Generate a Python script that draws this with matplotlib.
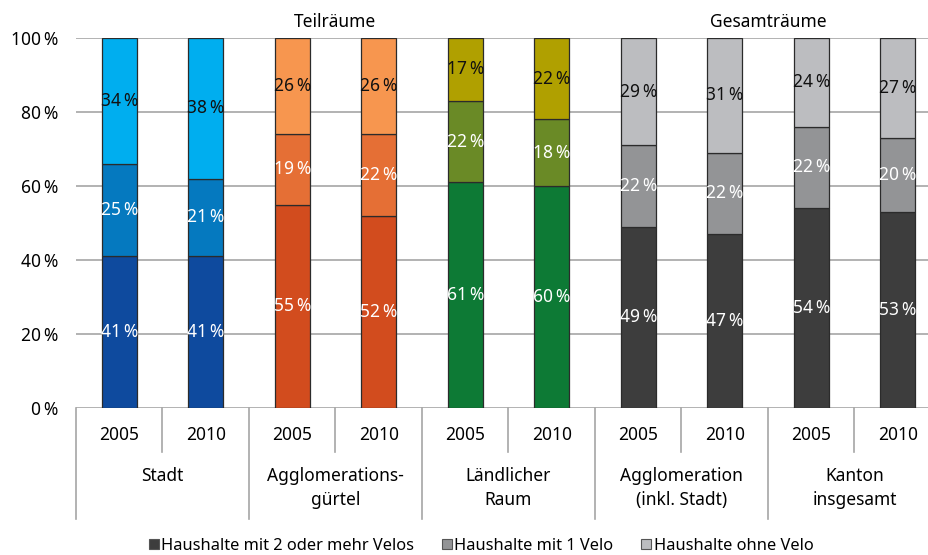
import matplotlib
matplotlib.use("Agg")
import matplotlib.pyplot as plt
from matplotlib.lines import Line2D
import matplotlib.transforms as mtransforms

plt.rcParams['font.family'] = ['Noto Sans', 'DejaVu Sans']

years = ["2005", "2010"] * 5
groups = ["Stadt", "Agglomerations-\ngürtel", "Ländlicher\nRaum", "Agglomeration\n(inkl. Stadt)", "Kanton\ninsgesamt"]
two_plus = [41, 41, 55, 52, 61, 60, 49, 47, 54, 53]
one_velo = [25, 21, 19, 22, 22, 18, 22, 22, 22, 20]
no_velo = [34, 38, 26, 26, 17, 22, 29, 31, 24, 27]
series_names = ["Haushalte mit 2 oder mehr Velos", "Haushalte mit 1 Velo", "Haushalte ohne Velo"]
top_labels = ["Teilräume", "Gesamträume"]
yticks = [0, 20, 40, 60, 80, 100]

group_colors = [
    ["#0E4A9E", "#0579BF", "#00AEEF"],
    ["#D24C1E", "#E56F35", "#F7964F"],
    ["#0D7A35", "#6A8A26", "#B0A000"],
    ["#3D3D3D", "#939496", "#BCBDC0"],
    ["#3D3D3D", "#939496", "#BCBDC0"],
]
legend_colors = ["#3D3D3D", "#939496", "#BCBDC0"]

W, H = 929, 555
fig = plt.figure(figsize=(W / 100, H / 100), dpi=100)
ax = fig.add_axes([76 / W, (H - 408) / H, (941 - 76) / W, 370 / H])
ax.set_xlim(-0.5, 9.5)
ax.set_ylim(0, 100)

x = list(range(len(years)))
series = [two_plus, one_velo, no_velo]
bw = 0.4
for i in x:
    bottom = 0
    cols = group_colors[i // 2]
    for s in range(3):
        v = series[s][i]
        ax.bar(i, v, bottom=bottom, width=bw, color=cols[s], edgecolor="#2b2b2b", linewidth=0.9, zorder=3)
        tc = "#111111" if s == 2 else "white"
        ax.text(i, bottom + v / 2, f"{v}\u2009%", ha="center", va="center", color=tc, fontsize=12.5, zorder=4)
        bottom += v

ax.set_yticks(yticks)
ax.set_yticklabels([f"{t}\u2009%" for t in yticks], fontsize=12.5)
ax.tick_params(axis="y", length=0, pad=13)
ax.set_xticks([])
ax.yaxis.grid(True, color="#a6a6a6", linewidth=1.2, zorder=0)
for sp in ax.spines.values():
    sp.set_visible(False)

trans = mtransforms.blended_transform_factory(ax.transData, ax.transAxes)
line_kw = dict(color="#a6a6a6", linewidth=1.2, clip_on=False, transform=trans)
# year labels and dividers
for i in x:
    ax.text(i, -0.073, years[i], ha="center", va="center", fontsize=12.5, transform=trans)
for i in range(11):
    xb = i - 0.5
    if i % 2 == 0:
        ax.plot([xb, xb], [0, -0.30], **line_kw)
    else:
        ax.plot([xb, xb], [0, -0.119], **line_kw)
for g, name in enumerate(groups):
    ax.text(2 * g + 0.5, -0.16, name, ha="center", va="top", fontsize=12.5,
            transform=trans, linespacing=1.4)

ax.text(2.5, 1.043, top_labels[0], ha="center", va="center", fontsize=12.5, transform=trans)
ax.text(7.5, 1.043, top_labels[1], ha="center", va="center", fontsize=12.5, transform=trans)

handles = [Line2D([], [], marker="s", linestyle="none", markersize=7,
                  markerfacecolor=c, markeredgecolor="#555555", markeredgewidth=0.8)
           for c in legend_colors]
fig.legend(handles, series_names, loc="center", bbox_to_anchor=(0.517, 0.016), ncol=3,
           frameon=False, fontsize=11.8, handletextpad=0.05, columnspacing=1.6,
           handlelength=0.8)

fig.savefig("out.png", dpi=100)
